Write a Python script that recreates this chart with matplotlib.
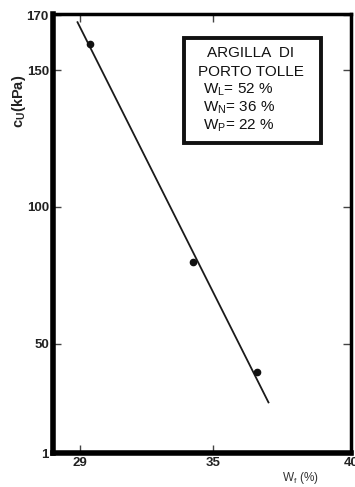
import matplotlib

matplotlib.use("Agg")
import matplotlib.pyplot as plt
import numpy as np
from matplotlib.patches import Rectangle

# measured points: water content w_f (%) vs undrained strength c_u (kPa)
wf_points = [29.45, 34.1, 36.6]
cu_points = [159.5, 80.0, 39.5]

# regression line end points
wf_line = [28.9, 37.0]
cu_line = [167.5, 28.5]

x_ticks = [29, 35, 40]
x_labels = ["29", "35", "40"]
y_ticks = [10, 50, 100, 150, 170]
y_labels = ["1", "50", "100", "150", "170"]

box_lines = ["ARGILLA  DI", "PORTO TOLLE", r"W$_\mathregular{L}$= 52 %",
             r"W$_\mathregular{N}$= 36 %", r"W$_\mathregular{P}$= 22 %"]

plt.rcParams["font.family"] = ["Liberation Sans", "DejaVu Sans"]
plt.rcParams["mathtext.fontset"] = "custom"
plt.rcParams["mathtext.rm"] = "Liberation Sans"


# the printed abscissa is stretched beyond 35
def fwd(x):
    x = np.asarray(x, dtype=float)
    return np.where(x <= 35, (x - 35) * 22.2, (x - 35) * 27.4)


def inv(v):
    v = np.asarray(v, dtype=float)
    return np.where(v <= 0, v / 22.2 + 35, v / 27.4 + 35)


fig = plt.figure(figsize=(3.55, 4.87), dpi=100)
ax = fig.add_axes([53 / 355, 34 / 487, 298 / 355, 439 / 487])
ax.set_xscale("function", functions=(fwd, inv))
ax.set_xlim(27.8, 40)
ax.set_ylim(10, 170.5)

ax.plot(wf_line, cu_line, color="#1a1a1a", lw=1.3)
ax.plot(wf_points, cu_points, "o", color="#111111", ms=4.5)

for side in ["left", "bottom"]:
    ax.spines[side].set_linewidth(4)
for side in ["top", "right"]:
    ax.spines[side].set_linewidth(2.5)

ax.set_xticks(x_ticks)
ax.set_xticklabels(x_labels, fontsize=9.5, fontweight="bold", color="#222222")
ax.set_yticks(y_ticks)
ax.set_yticklabels(y_labels, fontsize=9.5, fontweight="bold", color="#222222")
ax.tick_params(direction="in", top=True, right=True, length=6, width=1,
               color="#444444", pad=3)
ax.minorticks_off()

ax.set_ylabel(r"c$_\mathregular{U}$(kPa)", fontsize=10.5, fontweight="bold",
              color="#222222")
ax.yaxis.set_label_coords(-0.085, 0.80)
ax.text(0.83, -0.057, r"W$_\mathregular{f}$ (%)", transform=ax.transAxes,
        ha="center", va="center", fontsize=8.5, color="#333333")

# soil description box
ax.add_patch(Rectangle((0.441, 0.706), 0.46, 0.239, transform=ax.transAxes,
                       fill=False, lw=2.8, color="#111111"))
box_y = [0.911, 0.868, 0.827, 0.786, 0.745]
for i, (line, yy) in enumerate(zip(box_lines, box_y)):
    xx = 0.664 if i < 2 else 0.505
    ha = "center" if i < 2 else "left"
    ax.text(xx, yy, line, transform=ax.transAxes, ha=ha, va="center",
            fontsize=11, color="#111111")

fig.savefig("out.png", dpi=100)
